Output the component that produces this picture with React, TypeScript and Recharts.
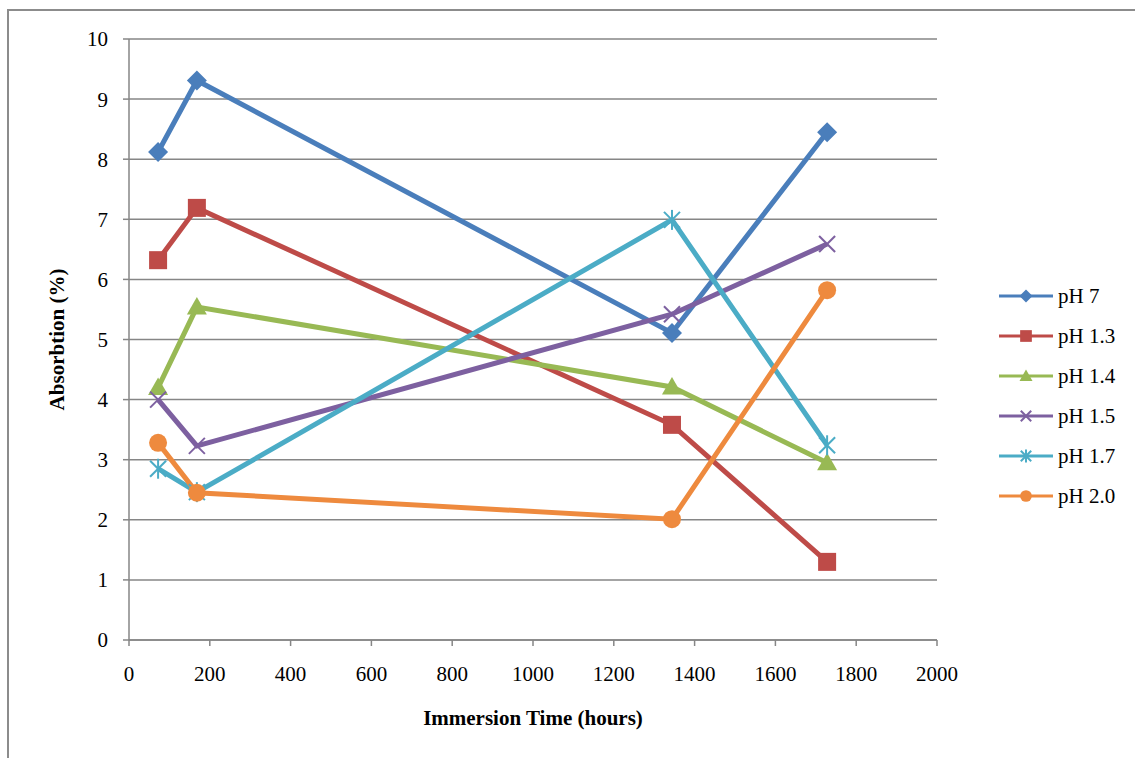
import { LineChart, Line, XAxis, YAxis, CartesianGrid, Label } from "recharts";

const hours = [72, 168, 1344, 1728];
const ph7 = [8.12, 9.31, 5.11, 8.45];
const ph13 = [6.32, 7.19, 3.58, 1.3];
const ph14 = [4.2, 5.54, 4.21, 2.95];
const ph15 = [4.0, 3.23, 5.42, 6.59];
const ph17 = [2.85, 2.46, 6.99, 3.24];
const ph20 = [3.28, 2.45, 2.01, 5.82];
const xTicks = [0, 200, 400, 600, 800, 1000, 1200, 1400, 1600, 1800, 2000];
const yTicks = [0, 1, 2, 3, 4, 5, 6, 7, 8, 9, 10];

type Shape = "diamond" | "square" | "triangle" | "x" | "star" | "circle";

const series: { key: string; name: string; values: number[]; color: string; shape: Shape }[] = [
  { key: "ph7", name: "pH 7", values: ph7, color: "#4A7EBB", shape: "diamond" },
  { key: "ph13", name: "pH 1.3", values: ph13, color: "#BE4B48", shape: "square" },
  { key: "ph14", name: "pH 1.4", values: ph14, color: "#98B954", shape: "triangle" },
  { key: "ph15", name: "pH 1.5", values: ph15, color: "#7D60A0", shape: "x" },
  { key: "ph17", name: "pH 1.7", values: ph17, color: "#4BACC6", shape: "star" },
  { key: "ph20", name: "pH 2.0", values: ph20, color: "#EE8A3E", shape: "circle" },
];

const data = hours.map((h, i) => {
  const row: Record<string, number> = { hours: h };
  series.forEach((s) => {
    row[s.key] = s.values[i];
  });
  return row;
});

const font = "'Liberation Serif', 'Times New Roman', serif";

function Marker({ cx, cy, shape, color, scale = 1 }: { cx: number; cy: number; shape: Shape; color: string; scale?: number }) {
  const r = 10 * scale;
  switch (shape) {
    case "diamond":
      return <polygon points={`${cx},${cy - r} ${cx + r},${cy} ${cx},${cy + r} ${cx - r},${cy}`} fill={color} />;
    case "square":
      return <rect x={cx - r * 0.9} y={cy - r * 0.9} width={r * 1.8} height={r * 1.8} fill={color} />;
    case "triangle":
      return <polygon points={`${cx},${cy - r} ${cx + r},${cy + r * 0.75} ${cx - r},${cy + r * 0.75}`} fill={color} />;
    case "x": {
      const d = r * 0.8;
      return (
        <g stroke={color} strokeWidth={2}>
          <line x1={cx - d} y1={cy - d} x2={cx + d} y2={cy + d} />
          <line x1={cx - d} y1={cy + d} x2={cx + d} y2={cy - d} />
        </g>
      );
    }
    case "star": {
      const d = r * 0.8;
      return (
        <g stroke={color} strokeWidth={2}>
          <line x1={cx - d} y1={cy - d} x2={cx + d} y2={cy + d} />
          <line x1={cx - d} y1={cy + d} x2={cx + d} y2={cy - d} />
          <line x1={cx} y1={cy - r} x2={cx} y2={cy + r} />
        </g>
      );
    }
    default:
      return <circle cx={cx} cy={cy} r={r * 0.9} fill={color} />;
  }
}

export default function App() {
  return (
    <div style={{ position: "absolute", left: 0, top: 0, width: 1135, height: 758, background: "#fff", overflow: "hidden" }}>
      <div
        style={{
          position: "absolute",
          left: 7,
          top: 9,
          width: 1200,
          height: 800,
          borderLeft: "2px solid #8c8c8c",
          borderTop: "2px solid #8c8c8c",
        }}
      />
      <div style={{ position: "absolute", left: 0, top: 0 }}>
        <LineChart width={1135} height={758} data={data} margin={{ top: 39, right: 198, bottom: 0, left: 0 }}>
          <CartesianGrid vertical={false} stroke="#868686" strokeWidth={1.5} />
          <XAxis
            dataKey="hours"
            type="number"
            domain={[0, 2000]}
            ticks={xTicks}
            height={118}
            stroke="#868686"
            strokeWidth={1.5}
            tickSize={6}
            tickMargin={20}
            tick={{ fill: "#000", fontFamily: font, fontSize: 21 }}
          >
            <Label
              value="Immersion Time (hours)"
              position="insideTop"
              offset={70}
              style={{ fill: "#000", fontFamily: font, fontSize: 21, fontWeight: "bold" }}
            />
          </XAxis>
          <YAxis
            type="number"
            domain={[0, 10]}
            ticks={yTicks}
            width={129}
            stroke="#868686"
            strokeWidth={1.5}
            tickSize={6}
            tickMargin={15}
            tick={{ fill: "#000", fontFamily: font, fontSize: 21 }}
          >
            <Label
              value="Absorbtion (%)"
              angle={-90}
              position="insideLeft"
              offset={57}
              style={{ fill: "#000", fontFamily: font, fontSize: 21, fontWeight: "bold", textAnchor: "middle" }}
            />
          </YAxis>
          {series.map((s) => (
            <Line
              key={s.key}
              dataKey={s.key}
              name={s.name}
              stroke={s.color}
              strokeWidth={5}
              isAnimationActive={false}
              activeDot={false}
              dot={(p: any) => <Marker key={`${s.key}-${p.index}`} cx={p.cx} cy={p.cy} shape={s.shape} color={s.color} />}
            />
          ))}
        </LineChart>
      </div>
      <div style={{ position: "absolute", left: 998, top: 276, fontFamily: font, fontSize: 21 }}>
        {series.map((s) => (
          <div key={s.key} style={{ display: "flex", alignItems: "center", height: 40 }}>
            <svg width={56} height={24}>
              <line x1={1} y1={12} x2={55} y2={12} stroke={s.color} strokeWidth={3} />
              <Marker cx={28} cy={12} shape={s.shape} color={s.color} scale={0.65} />
            </svg>
            <span style={{ marginLeft: 4, color: "#000" }}>{s.name}</span>
          </div>
        ))}
      </div>
    </div>
  );
}
